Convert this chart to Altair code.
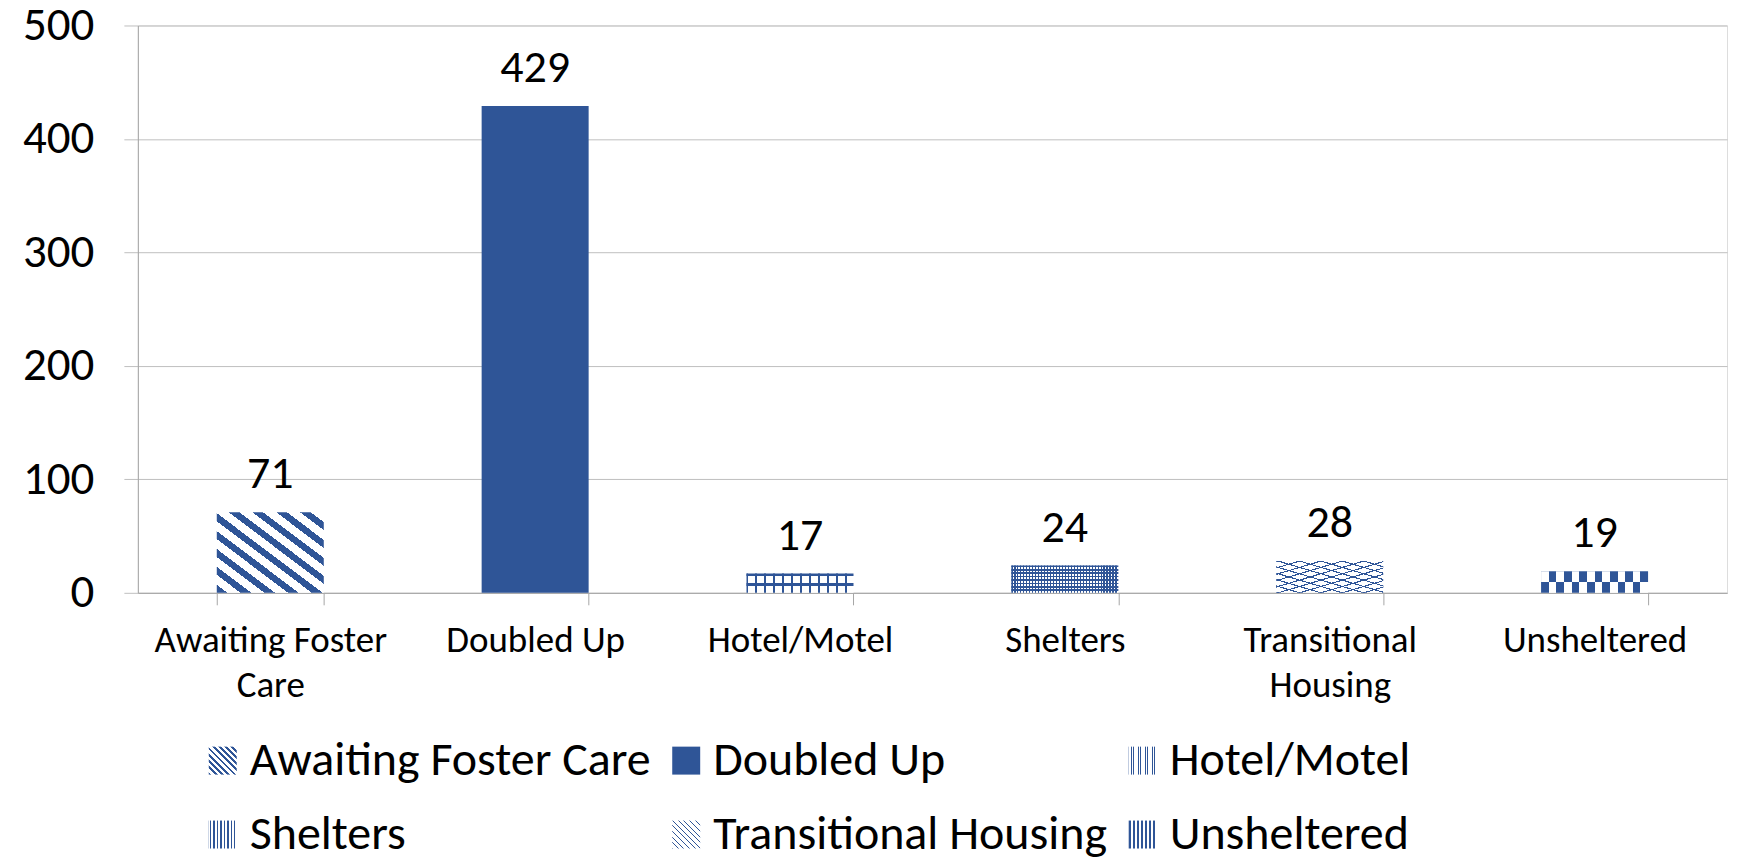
import altair as alt
import pandas as pd

# ---------------- data ----------------
categories = ["Awaiting Foster Care", "Doubled Up", "Hotel/Motel", "Shelters",
              "Transitional Housing", "Unsheltered"]
counts = [71, 429, 17, 24, 28, 19]
axis_label_lines = [["Awaiting Foster", "Care"], ["Doubled Up"], ["Hotel/Motel"],
                    ["Shelters"], ["Transitional", "Housing"], ["Unsheltered"]]
y_ticks = [0, 100, 200, 300, 400, 500]

df = pd.DataFrame({"category": categories, "count": counts})

FONT = "Carlito, Calibri, Lato, sans-serif"
BLUE = "#2F5597"
WHITE = "#FFFFFF"
CLEAR = "rgba(255,255,255,0)"
GRID = "#BFBFBF"
AXIS = "#A6A6A6"


def stripes(n, frac, c_on, c_off, x1, y1, x2, y2):
    """Linear-gradient hatch (fill style only)."""
    stops = []
    for i in range(n):
        a, b, c = i / n, (i + frac) / n, (i + 1) / n
        stops += [{"offset": round(a, 4), "color": c_on},
                  {"offset": round(b, 4), "color": c_on},
                  {"offset": round(b, 4), "color": c_off},
                  {"offset": round(c, 4), "color": c_off}]
    return {"gradient": "linear", "x1": x1, "y1": y1, "x2": x2, "y2": y2, "stops": stops}


def js(obj):
    import json
    return alt.ExprRef(expr=json.dumps(obj))


base_fills = [
    js(stripes(9, 0.45, BLUE, WHITE, 0, 1, 1, 0)),    # diagonal
    BLUE,                                             # dotted -> solid
    js(stripes(12, 0.22, BLUE, WHITE, 0, 0, 1, 0)),   # grid (vertical part)
    js(stripes(36, 0.4, BLUE, WHITE, 0, 0, 1, 0)),    # fine mesh
    js(stripes(10, 0.18, BLUE, WHITE, 0, 1, 1, 0)),   # zigzag approx
    js(stripes(7, 0.5, BLUE, WHITE, 0, 0, 1, 0)),     # checker (bottom row)
]

label_expr = ""
for cat, lines in zip(categories, axis_label_lines):
    if len(lines) > 1:
        label_expr += f"datum.value == '{cat}' ? {lines} : "
label_expr += "datum.value"

x_enc = alt.X("category:N", sort=categories,
              scale=alt.Scale(paddingInner=0.596, paddingOuter=0.298),
              axis=alt.Axis(title=None, labelAngle=0, labelFont=FONT, labelFontSize=37,
                            labelColor="#000000", labelPadding=18, labelLineHeight=45,
                            labelExpr=label_expr, tickBand="extent", tickSize=12,
                            tickColor=AXIS, domainColor=AXIS, labelLimit=400))
y_enc = alt.Y("count:Q",
              scale=alt.Scale(domain=[0, 500], nice=False),
              axis=alt.Axis(title=None, values=y_ticks, labelFont=FONT, labelFontSize=47,
                            labelColor="#000000", labelPadding=30, tickSize=14,
                            tickColor=GRID, domainColor=AXIS, gridColor=GRID,
                            grid=True))

base = alt.Chart(df).mark_bar(strokeWidth=0).encode(
    x=x_enc, y=y_enc,
    color=alt.Color("category:N", sort=categories,
                    scale=alt.Scale(domain=categories, range=base_fills),
                    legend=alt.Legend(orient="none", legendX=61, legendY=712,
                                      direction="horizontal", columns=3,
                                      symbolType="square", symbolSize=784,
                                      symbolStrokeWidth=0, labelFont=FONT,
                                      labelFontSize=48, labelColor="#000000",
                                      labelLimit=0, labelOffset=3, columnPadding=11,
                                      rowPadding=26, title=None, gridAlign="each",
                                      padding=0)),
)


def overlay(cat, fill, y2=None):
    ch = alt.Chart(df).transform_filter(alt.datum.category == cat)
    if y2 is not None:
        ch = ch.transform_calculate(half="datum.count / 2")
    ch = ch.mark_bar(fill=fill, strokeWidth=0)
    enc = dict(x=alt.X("category:N", sort=categories), y=alt.Y("count:Q"))
    if y2 is not None:
        enc["y2"] = alt.Y2("half:Q")
    return ch.encode(**enc)


over_hotel = overlay("Hotel/Motel", stripes(2, 0.25, BLUE, CLEAR, 0, 0, 0, 1))
over_shelter = overlay("Shelters", stripes(8, 0.5, BLUE, CLEAR, 0, 0, 0, 1))
over_trans = overlay("Transitional Housing", stripes(10, 0.18, BLUE, CLEAR, 0, 0, 1, 1))
over_unshel = overlay("Unsheltered", stripes(7, 0.5, WHITE, BLUE, 0, 0, 1, 0), y2=True)

labels = alt.Chart(df).mark_text(dy=-24, baseline="alphabetic", font=FONT,
                                 fontSize=46, color="#000000").encode(
    x=alt.X("category:N", sort=categories), y=alt.Y("count:Q"), text="count:Q")

chart = alt.layer(base, over_hotel, over_shelter, over_trans, over_unshel, labels).properties(
    width=1591, height=568,
    padding={"left": 130, "top": 17, "right": 5, "bottom": 264},
    autosize=alt.AutoSizeParams(type="none"),
).configure_view(stroke=None).configure(background="white")

chart.save("out.html", embed_options={"renderer": "svg", "actions": False})
